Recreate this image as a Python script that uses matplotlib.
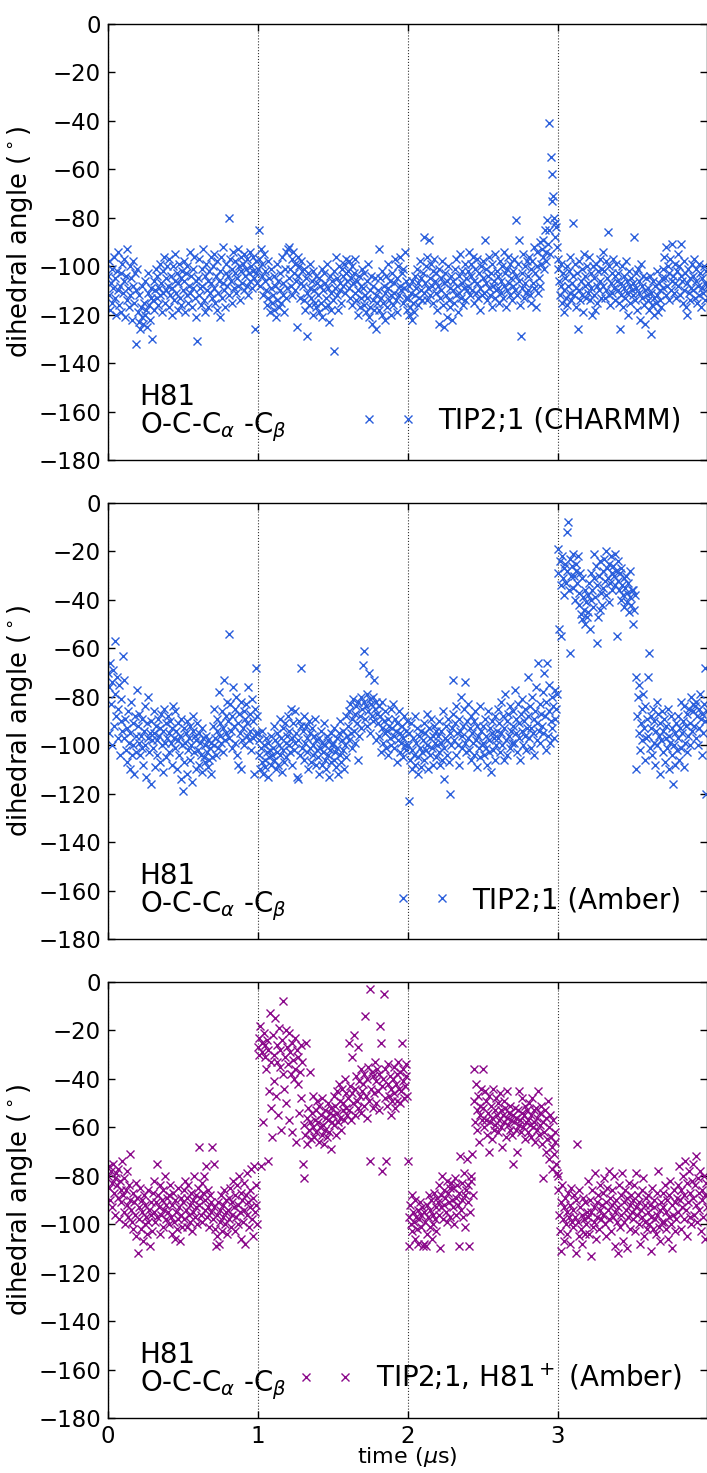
import numpy as np
import matplotlib
matplotlib.use("Agg")
import matplotlib.pyplot as plt

# ---------------- data (dihedral angle in degrees, sampled every dt microseconds) ----------------
dt = 0.005

charmm = [
 -104,-112,-98,-118,-107,-101,-115,-109,-96,-113,-105,-120,-102,-110,-94,-116,-108,-103,-119,-99,
 -111,-97,-106,-121,-104,-114,-93,-109,-117,-100,-112,-105,-122,-98,-108,-115,-103,-132,-110,-101,
 -119,-123,-112,-126,-117,-121,-108,-124,-115,-120,-106,-118,-125,-111,-103,-116,-122,-109,-113,-130,
 -114,-106,-118,-110,-101,-113,-104,-116,-109,-99,-112,-107,-119,-102,-111,-96,-115,-105,-110,-100,
 -108,-117,-97,-112,-104,-120,-109,-100,-114,-106,-95,-111,-103,-118,-107,-99,-113,-105,-116,-102,
 -110,-98,-106,-119,-103,-112,-100,-115,-108,-94,-111,-104,-117,-101,-109,-96,-113,-106,-121,-131,
 -105,-112,-97,-109,-116,-101,-108,-93,-114,-104,-119,-99,-110,-106,-117,-102,-111,-96,-107,-113,
 -100,-109,-95,-115,-104,-118,-98,-111,-106,-121,-102,-96,-113,-107,-92,-110,-117,-103,-99,-108,
 -104,-80,-112,-97,-106,-101,-115,-94,-109,-103,-98,-111,-105,-93,-108,-100,-114,-96,-102,-107,
 -99,-110,-95,-104,-101,-108,-97,-112,-103,-94,-106,-100,-109,-102,-96,-105,-126,-98,-103,-107,
 -101,-85,-97,-108,-93,-104,-99,-112,-95,-106,-102,-110,-116,-98,-113,-105,-119,-101,-109,-115,
 -112,-104,-118,-108,-121,-99,-114,-106,-117,-110,-103,-115,-96,-112,-107,-119,-101,-113,-94,-109,
 -93,-105,-92,-101,-108,-97,-112,-94,-103,-110,-99,-106,-125,-96,-104,-100,-113,-98,-107,-102,
 -108,-114,-101,-118,-105,-111,-129,-103,-116,-109,-99,-113,-106,-120,-102,-110,-115,-104,-117,-107,
 -112,-105,-119,-108,-115,-101,-121,-110,-103,-117,-107,-113,-99,-116,-109,-123,-104,-111,-118,-106,
 -114,-102,-135,-109,-96,-112,-105,-118,-100,-110,-107,-115,-101,-108,-104,-99,-111,-103,-97,-106,
 -102,-109,-98,-113,-105,-100,-116,-107,-103,-111,-97,-114,-106,-120,-110,-104,-117,-108,-113,-101,
 -109,-116,-103,-112,-119,-106,-113,-99,-121,-110,-117,-104,-124,-114,-108,-118,-105,-126,-112,-115,
 -110,-93,-118,-105,-113,-120,-102,-115,-108,-122,-111,-104,-117,-109,-99,-114,-106,-112,-120,-103,
 -116,-107,-111,-97,-114,-105,-119,-100,-112,-108,-96,-110,-103,-115,-101,-109,-94,-106,-113,-118,
 -113,-120,-108,-117,-111,-122,-106,-115,-119,-104,-112,-109,-101,-116,-107,-113,-98,-110,-105,-114,
 -103,-111,-88,-107,-100,-114,-96,-109,-89,-105,-112,-99,-108,-102,-115,-97,-106,-111,-103,-118,
 -108,-101,-124,-113,-105,-110,-98,-116,-107,-125,-103,-112,-121,-106,-100,-114,-109,-117,-104,-122,
 -110,-106,-115,-101,-112,-97,-108,-119,-104,-111,-95,-113,-107,-102,-116,-109,-99,-114,-105,-110,
 -102,-108,-94,-112,-104,-99,-110,-96,-115,-106,-101,-111,-107,-97,-113,-103,-109,-118,-100,-112,
 -105,-98,-111,-89,-107,-101,-114,-104,-96,-109,-112,-103,-117,-99,-108,-106,-113,-95,-110,-102,
 -109,-104,-115,-98,-111,-106,-100,-113,-94,-108,-103,-117,-101,-110,-96,-107,-112,-99,-105,-114,
 -102,-108,-97,-110,-81,-104,-112,-99,-89,-106,-116,-129,-103,-109,-95,-113,-100,-107,-111,-98,
 -104,-110,-96,-112,-101,-115,-98,-107,-92,-109,-103,-117,-100,-94,-111,-105,-90,-108,-99,-93,
 -96,-89,-101,-85,-94,-98,-81,-91,-85,-41,-95,-55,-62,-73,-71,-80,-82,-88,-84,-92,
 -101,-97,-106,-112,-99,-108,-115,-103,-110,-119,-105,-113,-100,-116,-108,-102,-111,-96,-114,-107,
 -82,-104,-112,-99,-109,-117,-103,-126,-110,-98,-114,-106,-101,-112,-119,-95,-108,-104,-113,-100,
 -107,-111,-96,-114,-103,-109,-120,-100,-112,-105,-118,-99,-108,-115,-102,-110,-97,-106,-113,-101,
 -94,-108,-102,-113,-98,-110,-105,-86,-112,-100,-116,-107,-103,-111,-97,-109,-114,-104,-99,-106,
 -110,-103,-115,-126,-107,-112,-100,-117,-109,-104,-113,-98,-111,-106,-120,-102,-108,-115,-105,-110,
 -112,-107,-88,-114,-103,-109,-118,-101,-111,-106,-122,-99,-113,-108,-104,-116,-110,-124,-105,-112,
 -114,-109,-118,-104,-128,-111,-116,-106,-113,-120,-108,-115,-102,-112,-119,-107,-114,-110,-117,-105,
 -101,-109,-96,-105,-112,-92,-108,-100,-114,-103,-97,-110,-106,-91,-104,-111,-99,-107,-113,-102,
 -95,-108,-100,-112,-104,-91,-106,-115,-98,-110,-103,-117,-107,-120,-101,-111,-105,-114,-109,-99,
 -104,-110,-97,-113,-106,-101,-115,-108,-99,-112,-103,-117,-105,-109,-111,-100,-107,-114,-102,-108,
]

amber = [
 -70,-76,-95,-66,-83,-74,-100,-69,-92,-79,-57,-88,-72,-97,-85,-75,-104,-90,-81,-94,
 -63,-73,-97,-89,-102,-93,-107,-86,-99,-110,-95,-82,-104,-91,-100,-112,-88,-96,-103,-77,
 -92,-99,-87,-104,-96,-101,-89,-108,-94,-84,-100,-113,-91,-97,-80,-103,-95,-116,-90,-98,
 -101,-86,-95,-109,-92,-98,-104,-89,-96,-107,-93,-87,-100,-111,-94,-85,-99,-105,-91,-97,
 -88,-95,-103,-90,-99,-108,-93,-84,-97,-101,-86,-94,-110,-98,-91,-104,-96,-114,-89,-100,
 -119,-93,-107,-99,-95,-112,-90,-102,-97,-106,-92,-100,-115,-94,-88,-103,-96,-110,-98,-91,
 -102,-95,-108,-99,-104,-93,-111,-97,-105,-100,-107,-96,-103,-109,-98,-106,-101,-112,-99,-105,
 -92,-100,-85,-97,-104,-89,-94,-101,-78,-96,-91,-99,-86,-103,-93,-73,-98,-88,-95,-82,
 -90,-97,-54,-83,-94,-88,-101,-76,-92,-85,-99,-80,-104,-91,-108,-87,-95,-110,-82,-98,
 -93,-86,-100,-89,-83,-96,-91,-76,-98,-87,-94,-102,-81,-97,-90,-112,-85,-95,-68,-88,
 -95,-104,-98,-110,-101,-107,-94,-112,-100,-106,-109,-97,-103,-113,-99,-105,-102,-108,-96,-104,
 -101,-92,-106,-98,-110,-103,-95,-108,-100,-89,-104,-97,-111,-93,-102,-107,-91,-99,-105,-96,
 -88,-100,-94,-103,-85,-97,-108,-91,-102,-99,-86,-95,-113,-114,-98,-90,-104,-92,-68,-101,
 -94,-88,-106,-99,-92,-103,-97,-110,-90,-101,-95,-107,-93,-100,-104,-96,-89,-108,-98,-102,
 -105,-97,-112,-101,-94,-108,-99,-103,-91,-106,-100,-110,-96,-104,-98,-113,-102,-95,-107,-100,
 -99,-106,-93,-103,-109,-97,-101,-112,-95,-104,-90,-107,-98,-102,-94,-110,-100,-88,-105,-96,
 -92,-86,-98,-83,-95,-89,-101,-81,-94,-87,-99,-84,-91,-106,-82,-96,-88,-80,-93,-85,
 -67,-82,-61,-89,-84,-79,-92,-86,-70,-81,-95,-83,-88,-80,-90,-73,-85,-98,-82,-87,
 -91,-84,-96,-88,-103,-93,-82,-99,-90,-95,-86,-101,-94,-89,-104,-92,-97,-85,-100,-93,
 -83,-96,-101,-89,-94,-107,-91,-98,-86,-103,-95,-99,-92,-105,-97,-88,-100,-94,-102,-90,
 -100,-123,-95,-106,-91,-102,-110,-97,-104,-88,-108,-99,-93,-105,-112,-96,-101,-109,-94,-103,
 -98,-91,-106,-95,-102,-87,-100,-110,-93,-97,-104,-89,-101,-96,-108,-92,-99,-105,-94,-100,
 -96,-103,-90,-108,-99,-94,-106,-86,-101,-114,-97,-92,-104,-98,-89,-107,-95,-120,-100,-93,
 -87,-73,-98,-91,-104,-84,-95,-100,-89,-108,-94,-80,-101,-96,-92,-85,-99,-74,-103,-90,
 -97,-83,-102,-93,-88,-106,-95,-99,-90,-104,-86,-98,-109,-92,-96,-101,-84,-105,-94,-100,
 -99,-92,-104,-89,-101,-96,-108,-86,-98,-103,-93,-111,-95,-90,-102,-97,-106,-88,-100,-94,
 -85,-97,-91,-103,-82,-95,-100,-88,-106,-93,-79,-98,-90,-104,-87,-96,-101,-84,-94,-99,
 -92,-86,-99,-77,-95,-89,-103,-83,-97,-91,-106,-87,-94,-81,-100,-90,-96,-85,-102,-93,
 -88,-72,-97,-84,-93,-101,-80,-95,-89,-104,-86,-76,-98,-91,-66,-94,-83,-99,-87,-92,
 -78,-95,-70,-88,-102,-82,-66,-96,-86,-75,-99,-90,-80,-93,-84,-97,-77,-89,-85,-79,
 -19,-29,-52,-24,-34,-55,-22,-31,-27,-38,-25,-33,-28,-12,-8,-36,-23,-62,-30,-26,
 -35,-21,-30,-40,-25,-28,-33,-22,-37,-42,-29,-46,-31,-48,-39,-44,-50,-36,-41,-47,
 -38,-45,-33,-52,-40,-29,-36,-43,-21,-31,-39,-26,-58,-34,-47,-30,-24,-44,-37,-42,
 -28,-35,-23,-32,-20,-38,-27,-31,-25,-41,-33,-22,-29,-36,-26,-30,-21,-34,-28,-55,
 -32,-24,-36,-29,-40,-27,-34,-38,-31,-43,-35,-30,-41,-37,-33,-45,-39,-28,-42,-36,
 -36,-50,-44,-38,-72,-110,-88,-80,-95,-75,-102,-91,-85,-98,-79,-93,-106,-84,-97,-89,
 -72,-96,-62,-101,-88,-93,-104,-85,-99,-90,-108,-94,-82,-100,-87,-96,-112,-91,-98,-86,
 -103,-94,-89,-107,-97,-92,-101,-85,-110,-96,-99,-88,-104,-93,-116,-100,-95,-108,-91,-102,
 -97,-88,-106,-93,-82,-101,-95,-90,-109,-84,-99,-92,-103,-87,-96,-85,-100,-91,-80,-94,
 -86,-83,-92,-84,-97,-82,-88,-100,-85,-93,-79,-89,-104,-87,-95,-83,-68,-90,-120,-86,
]

amber_h81p = [
 -80,-85,-76,-90,-78,-83,-93,-75,-87,-81,-96,-79,-84,-89,-77,-98,-82,-86,-91,-74,
 -88,-95,-81,-100,-86,-92,-78,-97,-84,-90,-71,-94,-99,-87,-102,-91,-96,-83,-105,-89,
 -112,-93,-98,-85,-102,-90,-95,-107,-88,-100,-92,-97,-104,-86,-99,-94,-109,-91,-96,-103,
 -87,-95,-82,-99,-91,-75,-97,-88,-93,-104,-84,-96,-90,-101,-86,-94,-80,-98,-92,-89,
 -95,-88,-100,-84,-97,-92,-104,-87,-99,-106,-90,-95,-102,-85,-98,-93,-107,-89,-96,-101,
 -91,-86,-98,-82,-94,-89,-101,-84,-96,-92,-99,-87,-103,-90,-95,-80,-97,-93,-88,-100,
 -85,-92,-68,-89,-96,-83,-99,-87,-80,-94,-90,-76,-97,-86,-93,-101,-88,-95,-91,-68,
 -98,-93,-75,-102,-109,-96,-105,-91,-108,-99,-94,-88,-103,-97,-92,-86,-100,-95,-90,-104,
 -94,-89,-98,-85,-101,-91,-96,-82,-93,-103,-88,-97,-84,-100,-92,-80,-95,-106,-87,-90,
 -99,-83,-94,-108,-88,-96,-79,-91,-101,-86,-93,-77,-98,-105,-89,-76,-95,-84,-92,-100,
 -27,-23,-30,-18,-76,-25,-29,-58,-21,-31,-26,-36,-24,-74,-28,-45,-13,-52,-33,-64,
 -22,-41,-30,-15,-47,-26,-33,-55,-19,-35,-28,-61,-24,-38,-8,-44,-31,-20,-50,-27,
 -34,-21,-57,-29,-38,-25,-62,-32,-40,-23,-36,-66,-28,-42,-31,-54,-37,-26,-48,-33,
 -75,-59,-81,-63,-25,-56,-67,-52,-61,-37,-58,-65,-54,-60,-47,-64,-57,-53,-62,-49,
 -58,-66,-51,-60,-55,-63,-48,-59,-67,-53,-61,-56,-64,-50,-57,-62,-54,-69,-52,-58,
 -55,-47,-59,-51,-63,-45,-54,-58,-42,-56,-49,-61,-44,-53,-50,-57,-40,-52,-46,-55,
 -48,-25,-53,-43,-57,-31,-46,-50,-22,-44,-55,-39,-49,-27,-52,-41,-47,-36,-54,-45,
 -42,-51,-38,-14,-47,-40,-56,-35,-49,-3,-74,-44,-37,-52,-39,-46,-33,-50,-41,-36,
 -45,-38,-53,-18,-25,-78,-43,-40,-5,-48,-36,-74,-51,-42,-34,-47,-39,-55,-44,-49,
 -40,-46,-35,-52,-42,-38,-49,-33,-44,-50,-37,-45,-25,-41,-36,-48,-43,-39,-34,-47,
 -74,-97,-109,-92,-100,-88,-103,-95,-99,-106,-90,-97,-102,-94,-108,-98,-91,-101,-96,-93,
 -109,-95,-108,-99,-109,-92,-104,-97,-88,-101,-94,-90,-106,-96,-100,-87,-98,-93,-103,-89,
 -91,-84,-96,-110,-88,-93,-80,-98,-86,-92,-89,-95,-82,-99,-87,-91,-85,-97,-83,-90,
 -93,-85,-100,-81,-89,-96,-84,-92,-109,-87,-72,-94,-83,-90,-97,-79,-88,-101,-86,-73,
 -91,-84,-109,-95,-82,-80,-71,-88,-36,-49,-58,-42,-53,-61,-47,-66,-55,-51,-44,-57,
 -36,-52,-60,-45,-57,-49,-63,-54,-70,-47,-58,-51,-65,-56,-44,-61,-53,-59,-48,-55,
 -62,-50,-57,-46,-60,-53,-68,-55,-49,-58,-52,-64,-56,-45,-59,-54,-61,-51,-57,-63,
 -55,-75,-58,-52,-61,-56,-70,-53,-59,-45,-57,-62,-54,-48,-60,-55,-65,-51,-58,-53,
 -57,-62,-50,-59,-55,-64,-48,-60,-53,-58,-66,-52,-61,-56,-45,-63,-54,-59,-51,-67,
 -81,-58,-62,-53,-70,-56,-65,-49,-60,-73,-55,-64,-68,-77,-57,-71,-62,-66,-75,-79,
 -80,-86,-96,-103,-91,-111,-84,-98,-93,-107,-89,-100,-95,-104,-87,-97,-92,-108,-85,-99,
 -94,-101,-88,-97,-112,-90,-67,-99,-86,-105,-93,-102,-96,-108,-89,-98,-104,-91,-100,-95,
 -82,-97,-104,-90,-113,-95,-86,-101,-93,-99,-79,-106,-91,-97,-88,-102,-94,-84,-98,-92,
 -87,-96,-81,-100,-91,-105,-85,-94,-78,-98,-89,-103,-92,-86,-97,-80,-95,-109,-90,-99,
 -112,-93,-84,-101,-88,-96,-79,-107,-91,-99,-86,-94,-110,-89,-97,-83,-102,-92,-88,-95,
 -90,-98,-84,-103,-93,-79,-96,-88,-100,-91,-108,-94,-86,-97,-81,-105,-92,-99,-89,-102,
 -95,-88,-100,-92,-111,-97,-85,-102,-93,-90,-98,-104,-87,-96,-78,-101,-94,-107,-91,-99,
 -93,-87,-99,-84,-102,-95,-90,-106,-88,-97,-82,-100,-92,-110,-96,-86,-103,-91,-98,-89,
 -84,-95,-76,-90,-102,-86,-93,-80,-98,-88,-74,-94,-105,-83,-91,-78,-97,-87,-100,-82,
 -89,-75,-96,-84,-92,-72,-99,-81,-87,-94,-78,-103,-86,-90,-97,-80,-88,-106,-83,-93,
]

series = [charmm, amber, amber_h81p]
labels = ["TIP2;1 (CHARMM)", "TIP2;1 (Amber)", "TIP2;1, H81$^+$ (Amber)"]
colors = ["#2b5fdc", "#2b5fdc", "#8b0a8b"]
residue_label = "H81\nO-C-C$_\\alpha$ -C$_\\beta$"
yticks = [0, -20, -40, -60, -80, -100, -120, -140, -160, -180]
xticks = [0, 1, 2, 3]

# ---------------- figure ----------------
W, H = 707, 1473
fig = plt.figure(figsize=(W / 100, H / 100), dpi=100)
left = 108 / W
width = 598.5 / W
panel_tops = [24, 503, 982]
panel_h = 436

for i, (vals, lab, col) in enumerate(zip(series, labels, colors)):
    top = panel_tops[i]
    ax = fig.add_axes([left, 1 - (top + panel_h) / H, width, panel_h / H])
    t = np.arange(len(vals)) * dt
    ax.plot(t, vals, linestyle="none", marker="x", color=col,
            markersize=6, markeredgewidth=1.0, label=lab)
    ax.set_xlim(0, 3.993)
    ax.set_ylim(-180, 0)
    ax.set_yticks(yticks)
    ax.set_yticklabels([str(v).replace("-", "\u2212") for v in yticks])
    ax.set_xticks(xticks)
    ax.xaxis.grid(True, color="#333333", linestyle=":", linewidth=0.8)
    ax.tick_params(direction="in", top=True, right=True, length=5, width=1,
                   labelsize=16.5, pad=5)
    if i < 2:
        ax.set_xticklabels([])
    else:
        ax.set_xlabel("time ($\\mu$s)", fontsize=16, labelpad=-2)
    ax.set_ylabel("dihedral angle ($^\\circ$)", fontsize=18.5, labelpad=2)
    ax.text(0.053, 0.036, residue_label, transform=ax.transAxes,
            fontsize=20, ha="left", va="bottom", linespacing=1.0)
    ax.legend(loc="lower right", numpoints=2, frameon=False, fontsize=20,
              handlelength=2.0, handletextpad=0.8, borderaxespad=0.5,
              borderpad=0.4)
    for s in ax.spines.values():
        s.set_linewidth(1.0)

fig.savefig("out.png", dpi=100)
